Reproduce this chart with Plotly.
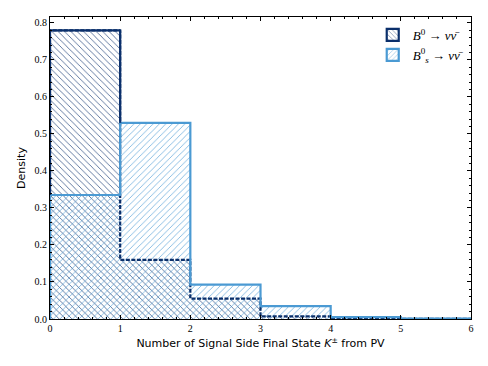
import plotly.graph_objects as go

bin_edges = [0, 1, 2, 3, 4, 5, 6]
b0_density = [0.780, 0.160, 0.055, 0.007, 0.001, 0.0003]
bs_density = [0.335, 0.530, 0.093, 0.035, 0.005, 0.001]
series_names = ["<i>B</i><sup>0</sup> → <i>νν̄</i>", "<i>B</i><sup>0</sup><sub><i>s</i></sub> → <i>νν̄</i>"]
x_ticks = [0, 1, 2, 3, 4, 5, 6]
y_ticks = [0.0, 0.1, 0.2, 0.3, 0.4, 0.5, 0.6, 0.7, 0.8]

DARK = "#0a2f6b"
LIGHT = "#4b9ad3"

centers = [(bin_edges[i] + bin_edges[i + 1]) / 2 for i in range(len(b0_density))]
widths = [bin_edges[i + 1] - bin_edges[i] for i in range(len(b0_density))]


def step_xy(vals):
    xs, ys = [bin_edges[0]], [0]
    for i, v in enumerate(vals):
        xs += [bin_edges[i], bin_edges[i + 1]]
        ys += [v, v]
    xs.append(bin_edges[-1])
    ys.append(0)
    return xs, ys


def visible_segments(top, other):
    # parts of "top" outline lying above the "other" histogram
    segs = []
    n = len(top)
    for i in range(n):
        if top[i] > other[i]:
            segs.append(([bin_edges[i], bin_edges[i + 1]], [top[i], top[i]]))
    for i in range(n + 1):
        prev_t = top[i - 1] if i > 0 else 0
        next_t = top[i] if i < n else 0
        prev_o = other[i - 1] if i > 0 else 0
        next_o = other[i] if i < n else 0
        lo, hi = min(prev_t, next_t), max(prev_t, next_t)
        lo = max(lo, max(prev_o, next_o))
        if hi > lo:
            segs.append(([bin_edges[i], bin_edges[i]], [lo, hi]))
    xs, ys = [], []
    for sx, sy in segs:
        xs += sx + [None]
        ys += sy + [None]
    return xs, ys


fig = go.Figure()

# hatched fills
fig.add_trace(go.Bar(
    x=centers, y=b0_density, width=widths, showlegend=False,
    marker=dict(color="rgba(0,0,0,0)", line=dict(width=0),
                pattern=dict(shape="\\", fgcolor=DARK, fgopacity=0.7, bgcolor="rgba(0,0,0,0)",
                             size=4.5, solidity=0.2)),
    hoverinfo="skip"))
fig.add_trace(go.Bar(
    x=centers, y=bs_density, width=widths, showlegend=False,
    marker=dict(color="rgba(0,0,0,0)", line=dict(width=0),
                pattern=dict(shape="/", fgcolor=LIGHT, fgopacity=0.7, bgcolor="rgba(0,0,0,0)",
                             size=4.5, solidity=0.2)),
    hoverinfo="skip"))

# legend-only entries
fig.add_trace(go.Bar(
    x=[None], y=[None], name=series_names[0],
    marker=dict(color="white", line=dict(width=2.2, color=DARK),
                pattern=dict(shape="\\", fgcolor=DARK, bgcolor="white", size=4, solidity=0.25))))
fig.add_trace(go.Bar(
    x=[None], y=[None], name=series_names[1],
    marker=dict(color="white", line=dict(width=2.2, color=LIGHT),
                pattern=dict(shape="/", fgcolor=LIGHT, bgcolor="white", size=4, solidity=0.25))))

# outlines
bx, by = step_xy(b0_density)
fig.add_trace(go.Scatter(x=bx, y=by, mode="lines", showlegend=False, hoverinfo="skip",
                         line=dict(color=DARK, width=2.2, dash="4px,1.5px")))
sx, sy = step_xy(bs_density)
fig.add_trace(go.Scatter(x=sx, y=sy, mode="lines", showlegend=False, hoverinfo="skip",
                         line=dict(color=LIGHT, width=2.2)))
vx, vy = visible_segments(b0_density, bs_density)
fig.add_trace(go.Scatter(x=vx, y=vy, mode="lines", showlegend=False, hoverinfo="skip",
                         line=dict(color=DARK, width=2.2)))

tick_font = dict(family="Liberation Serif", size=10, color="black")
axis_common = dict(showline=True, linecolor="black", linewidth=1, mirror="ticks",
                   ticks="inside", ticklen=4, tickwidth=1, tickcolor="black",
                   showgrid=False, zeroline=False, tickfont=tick_font)

fig.update_layout(
    width=488, height=366,
    margin=dict(l=42, r=25, t=9, b=55),
    paper_bgcolor="white", plot_bgcolor="white",
    barmode="overlay", bargap=0,
    legend=dict(x=0.997, y=0.99, xanchor="right", yanchor="top",
                font=dict(family="Liberation Serif", size=13, color="black"),
                bgcolor="rgba(0,0,0,0)", tracegroupgap=0, itemwidth=30),
    xaxis=dict(range=[0, 6], tickvals=x_ticks, ticktext=[str(v) for v in x_ticks],
               minor=dict(dtick=0.2, ticks="inside", ticklen=2, tickcolor="black", showgrid=False),
               title=dict(text="Number of Signal Side Final State <i>K</i><sup>±</sup> from PV",
                          font=dict(family="DejaVu Sans", size=11, color="black"), standoff=6),
               **axis_common),
    yaxis=dict(range=[0, 0.816], tickvals=y_ticks, ticktext=[f"{v:.1f}" for v in y_ticks],
               minor=dict(dtick=0.02, ticks="inside", ticklen=2, tickcolor="black", showgrid=False),
               title=dict(text="Density", font=dict(family="DejaVu Sans", size=11, color="black"),
                          standoff=6),
               **axis_common),
)

fig.write_html("out.html")
